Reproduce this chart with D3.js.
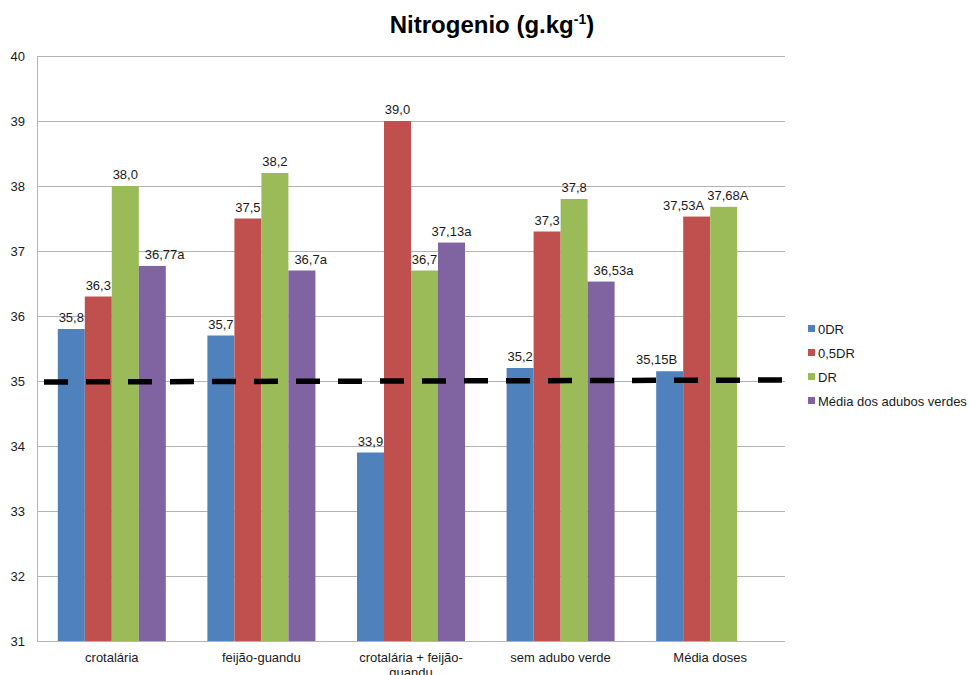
<!DOCTYPE html>
<html>
<head>
<meta charset="utf-8">
<script src="https://cdn.jsdelivr.net/npm/d3@7"></script>
<style>
  html, body { margin: 0; padding: 0; background: #fff; }
  svg { display: block; font-family: "Liberation Sans", Arial, sans-serif; }
</style>
</head>
<body>
<svg id="chart" width="970" height="675"></svg>
<script>
// Nitrogen content by green manure and dose
const categories = ["crotalária", "feijão-guandu", "crotalária + feijão-guandu", "sem adubo verde", "Média doses"];
const seriesNames = ["0DR", "0,5DR", "DR", "Média dos adubos verdes"];
const seriesColors = ["#4F81BD", "#C0504D", "#9BBB59", "#8064A2"];

// values[category][series]; null = no bar
const values = [
  [35.8, 36.3, 38.0, 36.77],
  [35.7, 37.5, 38.2, 36.7],
  [33.9, 39.0, 36.7, 37.13],
  [35.2, 37.3, 37.8, 36.53],
  [35.15, 37.53, 37.68, null]
];
// significance letters appended to each label
const letters = [
  ["", "", "", "a"],
  ["", "", "", "a"],
  ["", "", "", "a"],
  ["", "", "", "a"],
  ["B", "A", "A", ""]
];

const yTicks = [31, 32, 33, 34, 35, 36, 37, 38, 39, 40];
const yDomain = [31, 40];
// reference level (dashed line), left and right end values
const refLine = [34.985, 35.015];

const svg = d3.select("#chart");
const plot = { left: 37, right: 785, top: 56, bottom: 641 };

const y = d3.scaleLinear().domain(yDomain).range([plot.bottom, plot.top]);
const x0 = d3.scaleBand().domain(categories).range([plot.left, plot.right]).padding(0);
const x1 = d3.scaleBand().domain(seriesNames)
  .range([x0.bandwidth() * 0.139, x0.bandwidth() * 0.861]).padding(0);

// gridlines
svg.append("g")
  .selectAll("line")
  .data(yTicks)
  .join("line")
  .attr("x1", plot.left).attr("x2", plot.right)
  .attr("y1", d => Math.round(y(d)) + 0.5).attr("y2", d => Math.round(y(d)) + 0.5)
  .attr("stroke", "#B3B3B3").attr("stroke-width", 1);

// y axis line and labels
svg.append("line")
  .attr("x1", plot.left + 0.5).attr("x2", plot.left + 0.5)
  .attr("y1", plot.top).attr("y2", plot.bottom + 0.5)
  .attr("stroke", "#B3B3B3");

svg.append("g")
  .selectAll("text")
  .data(yTicks)
  .join("text")
  .attr("x", 25).attr("y", d => y(d))
  .attr("dy", "0.35em")
  .attr("text-anchor", "end")
  .attr("font-size", 13)
  .attr("fill", "#1a1a1a")
  .text(d => d);

// value formatting: decimal comma, at least one decimal place
const fmt = v => {
  let s = String(v);
  if (!s.includes(".")) s += ".0";
  return s.replace(".", ",");
};

const cellData = categories.map((c, ci) =>
  seriesNames.map((s, si) => ({ c, ci, s, si, v: values[ci][si], l: letters[ci][si] }))
    .filter(d => d.v !== null));

// bars
const barLayer = svg.append("g");
const labelLayer = svg.append("g");

cellData.forEach(group => {
  barLayer.selectAll(null)
    .data(group)
    .join("rect")
    .attr("x", d => x0(d.c) + x1(d.s))
    .attr("width", x1.bandwidth())
    .attr("y", d => y(d.v))
    .attr("height", d => y(yDomain[0]) - y(d.v))
    .attr("fill", d => seriesColors[d.si]);
});

// value labels; a label that runs into a neighbouring taller bar is moved clear of it
const barGap = 6;
cellData.forEach(group => {
  const texts = labelLayer.selectAll(null)
    .data(group)
    .join("text")
    .attr("text-anchor", "middle")
    .attr("font-size", 13)
    .attr("fill", "#1a1a1a")
    .attr("y", d => y(d.v) - 7)
    .text(d => fmt(d.v) + d.l);

  const items = [];
  texts.each(function (d) {
    const w = this.getComputedTextLength();
    const cx = x0(d.c) + x1(d.s) + x1.bandwidth() / 2;
    items.push({ d, el: this, w, cx, top: y(d.v) - 18, bottom: y(d.v) - 5 });
  });

  items.forEach((it, k) => {
    const left = group[k - 1], right = group[k + 1];
    if (right && y(right.v) < it.bottom) {
      const edge = x0(right.c) + x1(right.s);
      if (it.cx + it.w / 2 > edge + 0.5) it.cx = edge - barGap - it.w / 2;
    }
    if (left && y(left.v) < it.bottom) {
      const edge = x0(left.c) + x1(left.s) + x1.bandwidth();
      if (it.cx - it.w / 2 < edge - 0.5) it.cx = edge + barGap + it.w / 2;
    }
  });

  for (let k = 1; k < items.length; k++) {
    const a = items[k - 1], b = items[k];
    const vOverlap = a.top < b.bottom && b.top < a.bottom;
    const need = (a.cx + a.w / 2 + 3) - (b.cx - b.w / 2);
    if (vOverlap && need > 0) b.cx += need;
  }

  items.forEach(it => d3.select(it.el).attr("x", it.cx));
});

// x axis baseline
svg.append("line")
  .attr("x1", plot.left).attr("x2", plot.right)
  .attr("y1", plot.bottom + 0.5).attr("y2", plot.bottom + 0.5)
  .attr("stroke", "#B3B3B3");

// category labels, wrapped to band width
const catText = svg.append("g")
  .selectAll("text")
  .data(categories)
  .join("text")
  .attr("text-anchor", "middle")
  .attr("font-size", 13)
  .attr("fill", "#1a1a1a")
  .attr("y", 662);

catText.each(function (d) {
  const t = d3.select(this);
  const cx = x0(d) + x0.bandwidth() / 2;
  const tokens = d.split(/(?<=[ -])/);
  const maxW = x0.bandwidth() - 8;
  const lines = [];
  let cur = "";
  const probe = t.append("tspan");
  tokens.forEach(tok => {
    probe.text(cur + tok);
    if (cur && probe.node().getComputedTextLength() > maxW) {
      lines.push(cur.trimEnd());
      cur = tok;
    } else {
      cur += tok;
    }
  });
  lines.push(cur.trimEnd());
  probe.remove();
  lines.forEach((ln, i) => {
    t.append("tspan").attr("x", cx).attr("dy", i === 0 ? 0 : 15).text(ln);
  });
});

// dashed reference line
svg.append("line")
  .attr("x1", plot.left).attr("x2", plot.right)
  .attr("y1", y(refLine[0])).attr("y2", y(refLine[1]))
  .attr("stroke", "#000")
  .attr("stroke-width", 5.5)
  .attr("stroke-dasharray", "24,18")
  .attr("stroke-dashoffset", 35);

// legend
const legend = svg.append("g")
  .selectAll("g")
  .data(seriesNames)
  .join("g")
  .attr("transform", (d, i) => `translate(808,${329 + i * 24})`);

legend.append("rect")
  .attr("x", 0).attr("y", -4)
  .attr("width", 7).attr("height", 7)
  .attr("fill", (d, i) => seriesColors[i]);

legend.append("text")
  .attr("x", 10).attr("dy", "0.35em")
  .attr("font-size", 13)
  .attr("fill", "#1a1a1a")
  .text(d => d);

// title
const title = svg.append("text")
  .attr("x", 492).attr("y", 33)
  .attr("text-anchor", "middle")
  .attr("font-size", 24)
  .attr("font-weight", "bold")
  .attr("fill", "#000");
title.append("tspan").text("Nitrogenio (g.kg");
title.append("tspan").attr("font-size", 14).attr("dy", -9).text("-1");
title.append("tspan").attr("dy", 9).text(")");
</script>
</body>
</html>
